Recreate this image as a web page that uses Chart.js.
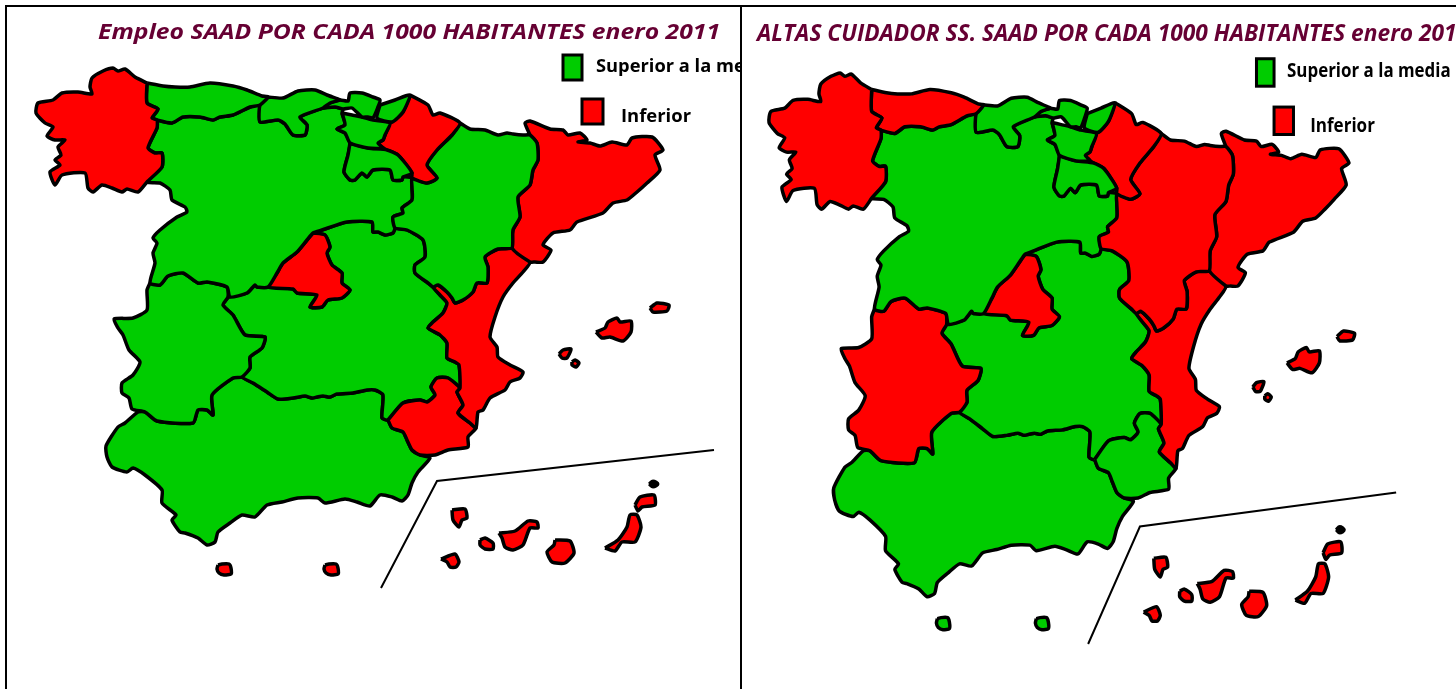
<!DOCTYPE html>
<html>
<head>
<meta charset="utf-8">
<script src="https://cdn.jsdelivr.net/npm/chart.js@4"></script>
<style>
  html, body { margin: 0; padding: 0; background: #fff; overflow: hidden; }
  canvas { position: absolute; top: 0; }
  .rule { position: absolute; background: #000; }
</style>
</head>
<body>
<canvas id="mapEmpleo" width="740" height="689" style="left:0"></canvas>
<canvas id="mapAltas" width="714" height="689" style="left:742px"></canvas>
<div class="rule" style="left:5px;top:5px;width:1451px;height:2px"></div>
<div class="rule" style="left:5px;top:5px;width:2px;height:684px"></div>
<div class="rule" style="left:740px;top:5px;width:2px;height:684px"></div>
<script>
// Outlines, in map units
const galicia = [[147,83],[135,77],[125,69],[118,71],[113,68],[103,71],[92,78],[90,87],[92,94],[78,92],[62,93],[53,100],[38,103],[36,113],[45,123],[53,127],[47,136],[55,140],[65,140],[58,147],[61,155],[55,160],[60,165],[50,172],[55,185],[62,175],[85,173],[88,188],[93,192],[102,185],[112,188],[122,192],[127,189],[138,192],[147,182],[162,167],[162,153],[155,153],[148,148],[157,128],[157,120],[152,118],[158,109],[147,103]];
const asturias = [[147,83],[163,86],[175,87],[190,87],[210,83],[233,86],[247,90],[262,96],[268,97],[260,105],[250,107],[233,115],[220,117],[213,120],[200,117],[183,117],[172,123],[157,120],[152,118],[158,109],[147,103]];
const cantabria = [[268,97],[283,98],[298,91],[315,90],[327,95],[338,99],[340,100],[330,103],[323,108],[300,117],[307,125],[305,135],[293,135],[285,124],[278,120],[260,122],[260,105]];
const bizkaia = [[323,108],[330,103],[340,100],[348,101],[350,93],[362,93],[373,97],[380,100],[378,107],[373,118],[368,117],[362,117],[352,108],[343,109],[335,107]];
const gipuzkoa = [[380,105],[395,100],[410,95],[403,112],[392,122],[377,118]];
const alava = [[342,113],[352,115],[362,117],[373,120],[390,123],[385,135],[383,140],[378,143],[383,148],[368,148],[350,143],[345,133],[337,129],[345,125]];
const rioja = [[350,143],[368,148],[387,150],[398,155],[412,173],[403,177],[402,180],[393,180],[390,170],[373,170],[367,177],[362,173],[355,180],[350,180],[344,172],[348,155]];
const navarra = [[410,95],[428,105],[433,115],[440,113],[460,123],[452,135],[437,150],[427,165],[437,178],[427,183],[412,178],[412,173],[398,155],[387,150],[383,148],[378,143],[383,140],[385,135],[390,123],[392,122],[403,112]];
const aragon = [[460,123],[470,129],[485,130],[498,135],[507,133],[513,134],[523,135],[530,135],[537,143],[538,160],[533,170],[530,185],[518,197],[520,217],[513,230],[512,248],[498,249],[485,257],[488,267],[487,283],[477,283],[473,292],[463,300],[455,303],[452,298],[447,292],[438,285],[433,287],[428,283],[415,273],[415,265],[425,257],[423,240],[407,230],[395,228],[393,217],[403,213],[402,208],[412,200],[412,187],[412,178],[427,183],[437,178],[427,165],[437,150],[452,135]];
const cataluna = [[530,135],[525,123],[530,121],[550,129],[563,130],[568,135],[580,133],[587,140],[578,142],[590,143],[600,146],[612,142],[627,145],[632,138],[652,137],[663,150],[655,155],[660,170],[647,183],[637,192],[627,200],[613,203],[603,213],[577,222],[570,230],[553,233],[543,245],[551,250],[543,262],[535,262],[530,262],[512,248],[513,230],[520,217],[518,197],[530,185],[533,170],[538,160],[537,143]];
const valencia = [[512,248],[530,262],[523,272],[513,283],[503,297],[495,317],[490,337],[497,347],[498,357],[510,365],[523,372],[520,378],[510,382],[505,390],[490,398],[483,410],[478,412],[476,428],[470,423],[458,413],[463,405],[457,392],[460,388],[459,365],[455,362],[447,358],[447,343],[440,335],[428,328],[433,322],[443,313],[447,303],[440,295],[433,287],[438,285],[447,292],[452,298],[455,303],[463,300],[473,292],[477,283],[487,283],[488,267],[485,257],[498,249]];
const murcia = [[388,420],[403,403],[420,400],[427,402],[435,395],[431,387],[437,378],[448,378],[460,388],[457,392],[463,405],[458,413],[470,423],[476,428],[468,437],[468,447],[448,450],[435,455],[420,455],[412,450],[407,440],[403,432],[392,428]];
const castillaLeon = [[157,120],[172,123],[183,117],[200,117],[213,120],[220,117],[233,115],[250,107],[260,105],[260,122],[278,120],[285,124],[293,135],[305,135],[307,125],[300,117],[323,108],[335,107],[343,109],[342,113],[345,125],[337,129],[345,133],[350,143],[348,155],[344,172],[350,180],[355,180],[362,173],[367,177],[373,170],[390,170],[393,180],[402,180],[403,177],[412,178],[412,187],[412,200],[402,208],[403,213],[393,217],[395,228],[393,233],[385,235],[378,232],[373,232],[372,222],[347,222],[322,230],[313,233],[307,240],[297,252],[283,263],[277,273],[268,287],[257,287],[255,285],[247,293],[230,297],[227,287],[207,282],[198,283],[183,273],[168,276],[160,285],[150,283],[155,263],[153,253],[157,243],[153,238],[160,230],[177,217],[187,212],[185,207],[172,200],[170,190],[160,183],[147,182],[162,167],[162,153],[155,153],[148,148],[157,128]];
const madrid = [[313,233],[307,240],[297,252],[283,263],[277,273],[268,287],[293,289],[297,293],[317,295],[310,307],[322,307],[328,300],[342,298],[350,290],[342,283],[342,273],[332,265],[327,253],[330,247],[325,235]];
const extremadura = [[150,283],[160,285],[168,276],[183,273],[198,283],[207,282],[227,287],[228,297],[223,305],[233,315],[245,335],[265,337],[262,348],[250,357],[250,368],[242,377],[233,378],[212,395],[213,415],[207,410],[198,410],[193,423],[157,421],[145,412],[132,409],[129,398],[122,393],[122,383],[133,375],[140,362],[129,350],[123,335],[118,328],[114,319],[133,318],[147,310],[147,290]];
const castillaMancha = [[228,297],[247,293],[255,285],[257,287],[268,287],[293,289],[297,293],[317,295],[310,307],[322,307],[328,300],[342,298],[350,290],[342,283],[342,273],[332,265],[327,253],[330,247],[325,235],[313,233],[322,230],[347,222],[372,222],[373,232],[378,232],[385,235],[393,233],[395,228],[407,230],[423,240],[425,257],[415,265],[415,273],[428,283],[433,287],[440,295],[447,303],[443,313],[433,322],[428,328],[440,335],[447,343],[447,358],[455,362],[459,365],[460,388],[448,378],[437,378],[431,387],[435,395],[427,402],[420,400],[403,403],[388,420],[382,418],[383,395],[375,390],[367,390],[353,393],[337,394],[330,397],[323,396],[317,397],[312,398],[305,396],[293,398],[278,399],[267,392],[253,383],[242,377],[250,368],[250,357],[262,348],[265,337],[245,335],[233,315],[223,305]];
const andalucia = [[242,377],[253,383],[267,392],[278,399],[293,398],[305,396],[312,398],[317,397],[323,396],[330,397],[337,394],[353,393],[367,390],[375,390],[383,395],[382,418],[388,420],[392,428],[403,432],[407,440],[412,450],[420,455],[430,458],[418,472],[412,483],[408,495],[402,501],[392,497],[380,495],[370,506],[357,502],[345,499],[325,503],[318,498],[298,498],[282,502],[267,505],[255,517],[242,515],[230,523],[218,532],[215,542],[207,545],[198,538],[185,533],[180,532],[172,520],[176,515],[162,503],[162,490],[145,475],[133,468],[127,472],[112,467],[107,457],[106,446],[118,427],[125,423],[138,412],[145,412],[157,421],[193,423],[198,410],[207,410],[213,415],[212,395],[233,378]];
const ceuta = [[218,565],[222,564],[229,564],[231,568],[231,574],[224,575],[219,573],[217,569]];
const melilla = [[325,565],[329,564],[336,564],[338,568],[338,574],[331,575],[326,573],[324,569]];
const menorca = [[650,308],[657,303],[669,305],[667,311],[653,312]];
const mallorca = [[596,332],[605,328],[608,322],[617,318],[620,322],[631,321],[631,332],[623,341],[610,337],[602,338]];
const ibiza = [[559,354],[563,350],[571,349],[567,358],[562,358]];
const formentera = [[572,362],[575,360],[579,363],[576,367],[572,365]];
const laPalma = [[452,510],[465,509],[467,518],[462,520],[459,527],[453,520]];
const elHierro = [[441,559],[455,554],[459,562],[456,567],[450,567],[447,562]];
const gomera = [[480,540],[485,538],[493,543],[493,549],[485,549],[480,545]];
const tenerife = [[499,533],[515,531],[528,521],[537,522],[538,528],[530,528],[523,545],[513,550],[505,547],[502,538]];
const granCanaria = [[555,540],[570,541],[574,553],[565,563],[552,562],[547,552],[554,545]];
const fuerteventura = [[605,548],[618,540],[627,527],[630,515],[637,515],[641,527],[635,542],[622,542],[615,551]];
const lanzarote = [[635,505],[640,497],[654,495],[655,505],[642,507],[638,511]];
const alegranza = [[649,484],[653,481],[658,484],[653,487]];
const canariasFrame = [[714,450],[437,481],[381,588]];

const regions = [galicia, asturias, cantabria, bizkaia, gipuzkoa, alava, rioja, navarra, aragon, cataluna, valencia, murcia, castillaLeon, madrid, extremadura, castillaMancha, andalucia, ceuta, melilla, menorca, mallorca, ibiza, formentera, laPalma, elHierro, gomera, tenerife, granCanaria, fuerteventura, lanzarote];

// 1 = Superior a la media, 0 = Inferior, same order as regions
const empleoClass = [0,1,1,1,1,1,1,0,1,0,0,0,1,0,1,1,1,0,0,0,0,0,0,0,0,0,0,0,0,0];
const altasClass  = [0,0,1,1,1,1,1,0,0,0,0,1,1,0,0,1,1,1,1,0,0,0,0,0,0,0,0,0,0,0];

const GREEN = '#00cc00';
const RED = '#ff0000';

const legendBoxes = [
  { color: GREEN, x0: 563, y0: 55, x1: 582, y1: 80 },
  { color: RED, x0: 582, y0: 99, x1: 603, y1: 124 }
];
const legendTexts = [
  { text: 'Superior a la media', x: 596, y: 72, width: 177 },
  { text: 'Inferior', x: 621, y: 122, width: 70 }
];

function toPoints(outline) {
  const pts = outline.map(p => ({ x: p[0], y: p[1] }));
  pts.push(pts[0]);
  return pts;
}

// Titles and legend labels, stretched the same way the panel is
const panelText = {
  id: 'panelText',
  afterDraw(chart, args, opts) {
    const { ctx, scales } = chart;
    const sy = Math.abs(scales.y.getPixelForValue(1) - scales.y.getPixelForValue(0));
    const sx = Math.abs(scales.x.getPixelForValue(1) - scales.x.getPixelForValue(0));

    ctx.save();
    ctx.lineWidth = 3;
    ctx.strokeStyle = '#000';
    legendBoxes.forEach(b => {
      const x = scales.x.getPixelForValue(b.x0);
      const y = scales.y.getPixelForValue(b.y0);
      const w = (b.x1 - b.x0) * sx;
      const h = (b.y1 - b.y0) * sy;
      ctx.fillStyle = b.color;
      ctx.fillRect(x, y, w, h);
      ctx.strokeRect(x, y, w, h);
    });

    ctx.fillStyle = '#000';
    ctx.font = 'bold 17px "Open Sans"';
    legendTexts.forEach(t => {
      ctx.save();
      ctx.translate(scales.x.getPixelForValue(t.x), scales.y.getPixelForValue(t.y));
      ctx.scale(t.width * sx / ctx.measureText(t.text).width, sy);
      ctx.fillText(t.text, 0, 0);
      ctx.restore();
    });

    ctx.fillStyle = '#660033';
    ctx.font = 'italic bold ' + opts.titleSize + 'px "Open Sans"';
    ctx.save();
    ctx.translate(opts.titleX, opts.titleY);
    ctx.scale(opts.titleWidth / ctx.measureText(opts.title).width, 1);
    ctx.fillText(opts.title, 0, 0);
    ctx.restore();
    ctx.restore();
  }
};

function drawMap(id, classes, range, titleOpts) {
  const datasets = regions.map((outline, i) => ({
    data: toPoints(outline),
    showLine: true,
    fill: 'shape',
    backgroundColor: classes[i] ? GREEN : RED,
    borderColor: '#000',
    borderWidth: 3.5,
    borderJoinStyle: 'round',
    pointRadius: 0,
    tension: 0.2
  }));
  datasets.push({
    data: toPoints(alegranza),
    showLine: true,
    fill: 'shape',
    backgroundColor: '#000',
    borderColor: '#000',
    borderWidth: 3,
    borderJoinStyle: 'round',
    pointRadius: 0,
    tension: 0.4
  });
  datasets.push({
    data: canariasFrame.map(p => ({ x: p[0], y: p[1] })),
    showLine: true,
    fill: false,
    borderColor: '#000',
    borderWidth: 2,
    pointRadius: 0
  });

  new Chart(document.getElementById(id), {
    type: 'scatter',
    data: { datasets: datasets },
    plugins: [panelText],
    options: {
      responsive: false,
      animation: false,
      layout: { padding: 0 },
      scales: {
        x: { type: 'linear', display: false, min: range[0], max: range[1] },
        y: { type: 'linear', display: false, reverse: true, min: range[2], max: range[3] }
      },
      plugins: {
        legend: { display: false },
        tooltip: { enabled: false },
        panelText: titleOpts
      }
    }
  });
}

drawMap('mapEmpleo', empleoClass, [0, 740, 0, 689], {
  title: 'Empleo SAAD POR CADA 1000 HABITANTES enero 2011',
  titleX: 98, titleY: 39, titleWidth: 622, titleSize: 22
});
drawMap('mapAltas', altasClass, [6.8, 778.7, 1.5, 629], {
  title: 'ALTAS CUIDADOR SS. SAAD POR CADA 1000 HABITANTES enero 2011',
  titleX: 15, titleY: 41, titleWidth: 712, titleSize: 24
});
</script>
</body>
</html>
